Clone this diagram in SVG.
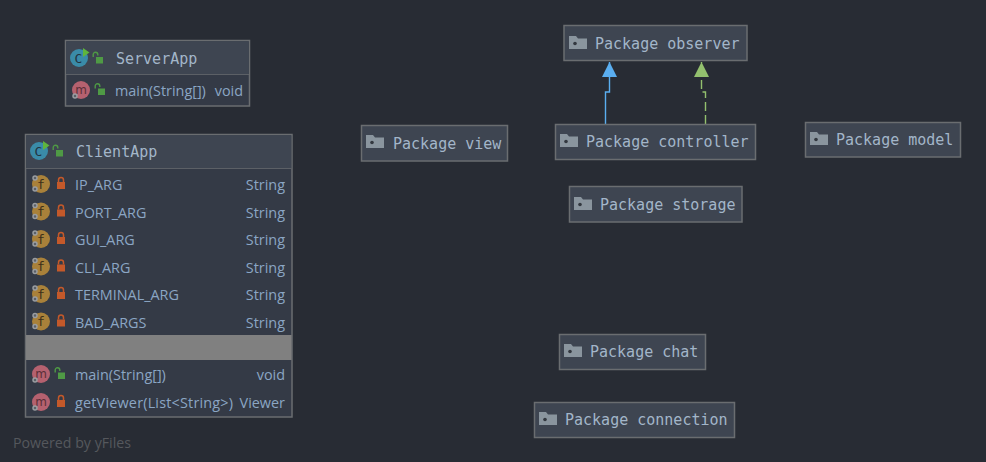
<svg xmlns="http://www.w3.org/2000/svg" width="986" height="462" viewBox="0 0 986 462">
<style>
.box{fill:#343a46;stroke:#6a6d70;stroke-width:1.5}
.hdr{fill:#3e4551}
.sep{stroke:#5c6066;stroke-width:1}
.pkg{fill:#3e4551;stroke:#6a6d70;stroke-width:1.5}
.mono{font-family:"DejaVu Sans Mono",monospace;font-size:15px;fill:#a3b6c9}
.body{font-family:"Open Sans","Noto Sans",sans-serif;font-size:14.400px;fill:#8ba6c4}
.end{text-anchor:end}
.wm{font-family:"Open Sans","Liberation Sans",sans-serif;font-size:14.200px;fill:#55585d}
</style>
<defs>
<g id="folder"><path d="M0 0h7l2 2.500h9v10.500H0z" fill="#8a959e"/><circle cx="6" cy="7.500" r="1.800" fill="#33383f"/></g>
<g id="open"><path d="M-3.800-1.500v-2.500a2.300 2.300 0 0 1 4.600 0v1" fill="none" stroke="#4f9a45" stroke-width="1.400"/><rect x="-1" y="-1.500" width="7" height="6.500" fill="#4f9a45"/></g>
<g id="closed"><path d="M-2.500-2v-2a2.500 2.500 0 0 1 5 0v2" fill="none" stroke="#c4592a" stroke-width="1.500"/><rect x="-4" y="-2" width="8" height="7" fill="#c4592a"/></g>
<g id="gear"><circle r="2" fill="#5b6068" stroke="#9a9da1" stroke-width="1.500"/></g>
<g id="cls"><circle r="9" fill="#3a8ba8"/><text x="-0.500" y="4.500" text-anchor="middle" style="font-family:'DejaVu Sans Mono',monospace;font-size:13px;fill:#22333f">C</text><path d="M4-10l6.500 4.500-6.500 4.500z" fill="#5fb53c"/></g>
<g id="m"><circle r="9" fill="#b5616f"/><text y="3.500" text-anchor="middle" style="font-family:'DejaVu Sans',sans-serif;font-size:12px;fill:#5a2f38">m</text><use href="#gear" x="-6" y="6"/></g>
<g id="f"><circle r="9" fill="#a9813a"/><text y="4.500" text-anchor="middle" style="font-family:'DejaVu Sans Mono',monospace;font-size:13px;fill:#3e3018">f</text><use href="#gear" x="-6" y="-6"/><use href="#gear" x="-6" y="5"/></g>
<marker id="tb" markerUnits="userSpaceOnUse" markerWidth="16" markerHeight="16" refX="15" refY="7.500" orient="auto"><path d="M0 0L15 7.500L0 15z" fill="#5aaef0"/></marker>
<marker id="tg" markerUnits="userSpaceOnUse" markerWidth="16" markerHeight="16" refX="15" refY="7.500" orient="auto"><path d="M0 0L15 7.500L0 15z" fill="#93c06e"/></marker>
</defs>
<rect width="986" height="462" fill="#282c34"/>
<g id="connectors" fill="none">
<path d="M605.500 124V92H609.500V62" stroke="#5aaef0" stroke-width="1.400" marker-end="url(#tb)"/>
<path d="M705.500 124V92H701.500V62" stroke="#93c06e" stroke-width="1.400" stroke-dasharray="9 4" marker-end="url(#tg)"/>
</g>
<g id="ServerApp">
<rect class="box" x="65.500" y="40.500" width="184" height="65.500"/>
<rect class="hdr" x="66.300" y="41.300" width="182.400" height="32.700"/>
<line class="sep" x1="66" y1="74.500" x2="249" y2="74.500"/>
<use href="#cls" x="79" y="58"/><use href="#open" x="97" y="58.500"/>
<text class="mono" x="116" y="63.500">ServerApp</text>
<use href="#m" x="81" y="90"/><use href="#open" x="99" y="90"/>
<text class="body" x="115" y="96">main(String[])</text>
<text class="body end" x="243" y="96">void</text>
</g>
<g id="ClientApp">
<rect class="box" x="25.500" y="134.500" width="266.500" height="282.500"/>
<rect class="hdr" x="26.300" y="135.300" width="265" height="32.700"/>
<line class="sep" x1="26" y1="168.500" x2="291" y2="168.500"/>
<use href="#cls" x="39" y="151"/><use href="#open" x="57" y="151.500"/>
<text class="mono" x="76" y="156.500">ClientApp</text>
<g><use href="#f" x="41" y="184"/><use href="#closed" x="61" y="184"/><text class="body" x="75" y="190">IP_ARG</text><text class="body end" x="285" y="190">String</text></g>
<g><use href="#f" x="41" y="211.500"/><use href="#closed" x="61" y="211.500"/><text class="body" x="75" y="217.500">PORT_ARG</text><text class="body end" x="285" y="217.500">String</text></g>
<g><use href="#f" x="41" y="239"/><use href="#closed" x="61" y="239"/><text class="body" x="75" y="245">GUI_ARG</text><text class="body end" x="285" y="245">String</text></g>
<g><use href="#f" x="41" y="266.500"/><use href="#closed" x="61" y="266.500"/><text class="body" x="75" y="272.500">CLI_ARG</text><text class="body end" x="285" y="272.500">String</text></g>
<g><use href="#f" x="41" y="294"/><use href="#closed" x="61" y="294"/><text class="body" x="75" y="300">TERMINAL_ARG</text><text class="body end" x="285" y="300">String</text></g>
<g><use href="#f" x="41" y="321.500"/><use href="#closed" x="61" y="321.500"/><text class="body" x="75" y="327.500">BAD_ARGS</text><text class="body end" x="285" y="327.500">String</text></g>
<rect x="26" y="335" width="265.500" height="25" fill="#808080"/>
<use href="#m" x="41" y="374"/><use href="#open" x="59" y="374"/>
<text class="body" x="75" y="380">main(String[])</text><text class="body end" x="285" y="380">void</text>
<use href="#m" x="41" y="402"/><use href="#closed" x="61" y="402"/>
<text class="body" x="75" y="407.500" textLength="158" lengthAdjust="spacing">getViewer(List&lt;String&gt;)</text><text class="body end" x="285" y="407.500">Viewer</text>
</g>
<g id="pkg-observer"><rect class="pkg" x="564" y="25.500" width="183" height="35"/><use href="#folder" x="569" y="36"/><text class="mono" x="595" y="48.500">Package observer</text></g>
<g id="pkg-controller"><rect class="pkg" x="555.500" y="124.500" width="200" height="35"/><use href="#folder" x="560" y="134"/><text class="mono" x="586" y="146.500">Package controller</text></g>
<g id="pkg-view"><rect class="pkg" x="361.500" y="125.500" width="146" height="35.500"/><use href="#folder" x="366" y="135"/><text class="mono" x="393" y="148.500">Package view</text></g>
<g id="pkg-model"><rect class="pkg" x="805.500" y="122.500" width="155" height="34.500"/><use href="#folder" x="810" y="132"/><text class="mono" x="836" y="144.500">Package model</text></g>
<g id="pkg-storage"><rect class="pkg" x="569.500" y="186.500" width="172.500" height="35.500"/><use href="#folder" x="574" y="197"/><text class="mono" x="600" y="209.500">Package storage</text></g>
<g id="pkg-chat"><rect class="pkg" x="559.500" y="334.500" width="146" height="35"/><use href="#folder" x="564" y="344"/><text class="mono" x="590" y="356.500">Package chat</text></g>
<g id="pkg-connection"><rect class="pkg" x="534.500" y="402.500" width="200" height="35"/><use href="#folder" x="539" y="412"/><text class="mono" x="565" y="424.500">Package connection</text></g>
<text class="wm" x="13" y="448">Powered by yFiles</text>
</svg>
